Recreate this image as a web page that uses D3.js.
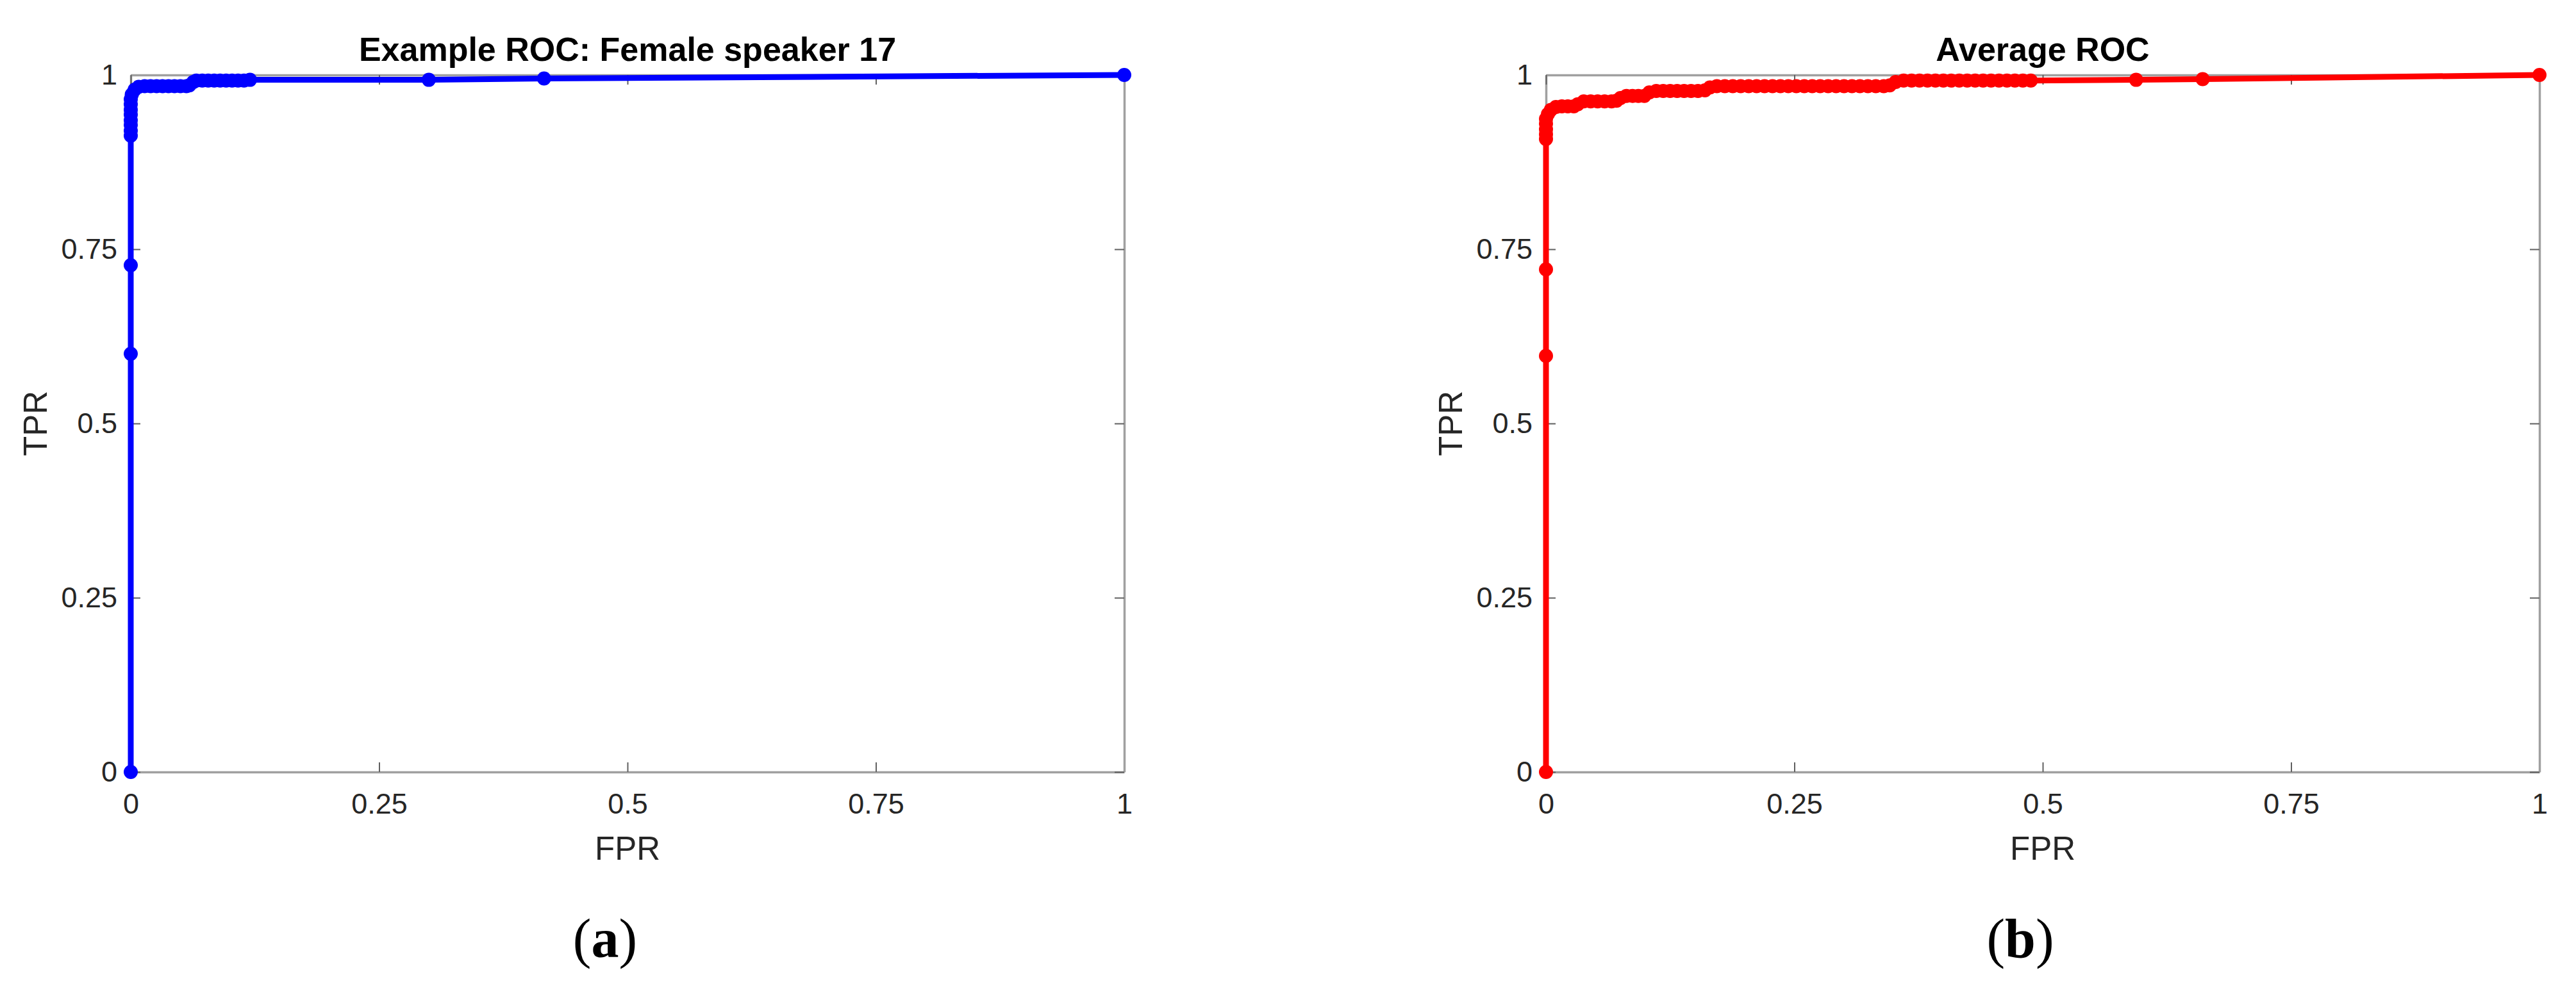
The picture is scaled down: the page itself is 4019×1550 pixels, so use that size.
<!DOCTYPE html>
<meta charset="utf-8">
<script src="https://d3js.org/d3.v7.min.js"></script>
<title>ROC curves</title>
<style>
  body { margin: 0; background: white; }
  svg { display: block; }
  .tick text { font-family: "Liberation Sans", Arial, sans-serif; fill: #262626; }
</style>
<body>
<div id="chart"></div>
<script>

// ---- data ----
var xTicks = [0, 0.25, 0.5, 0.75, 1];
var yTicks = [0, 0.25, 0.5, 0.75, 1];
var titles = ["Example ROC: Female speaker 17", "Average ROC"];
var panelTags = ["a", "b"];
var colors = ["#0000ff", "#ff0000"];

// [FPR, TPR] for speaker 17
var rocSpeaker = [
  [0, 0], [0, 0.600], [0, 0.727],
  [0, 0.913], [0, 0.920], [0, 0.928], [0, 0.935], [0, 0.943], [0, 0.950], [0, 0.958], [0, 0.965],
  [0.001, 0.972], [0.004, 0.979], [0.008, 0.983],
  [0.014, 0.984], [0.020, 0.984], [0.026, 0.984], [0.032, 0.984], [0.038, 0.984],
  [0.044, 0.984], [0.050, 0.984], [0.056, 0.984], [0.059, 0.985],
  [0.063, 0.990], [0.066, 0.992], [0.072, 0.992], [0.078, 0.992], [0.084, 0.992],
  [0.090, 0.992], [0.096, 0.992], [0.102, 0.992], [0.108, 0.992], [0.114, 0.992], [0.120, 0.993],
  [0.300, 0.993], [0.416, 0.995], [1, 1]
];

// [FPR, TPR] averaged over speakers
var rocAverage = [
  [0, 0], [0, 0.597], [0, 0.721],
  [0, 0.908], [0, 0.915], [0, 0.922], [0, 0.930], [0, 0.937],
  [0.002, 0.944], [0.005, 0.950], [0.010, 0.954],
  [0.016, 0.955], [0.022, 0.955], [0.028, 0.955], [0.032, 0.958],
  [0.038, 0.962], [0.045, 0.962], [0.052, 0.962], [0.059, 0.962], [0.066, 0.962], [0.071, 0.963],
  [0.075, 0.967], [0.081, 0.970], [0.087, 0.970], [0.093, 0.970], [0.099, 0.970],
  [0.104, 0.975], [0.111, 0.977], [0.118, 0.977], [0.125, 0.977], [0.132, 0.977],
  [0.139, 0.977], [0.146, 0.977], [0.153, 0.977], [0.160, 0.978],
  [0.165, 0.982], [0.172, 0.984], [0.180, 0.984], [0.188, 0.984], [0.196, 0.984],
  [0.204, 0.984], [0.212, 0.984], [0.220, 0.984], [0.228, 0.984], [0.236, 0.984],
  [0.244, 0.984], [0.252, 0.984], [0.260, 0.984], [0.268, 0.984], [0.276, 0.984],
  [0.284, 0.984], [0.292, 0.984], [0.300, 0.984], [0.308, 0.984], [0.316, 0.984],
  [0.324, 0.984], [0.332, 0.984], [0.340, 0.984], [0.346, 0.985],
  [0.352, 0.990], [0.360, 0.992], [0.368, 0.992], [0.376, 0.992], [0.384, 0.992],
  [0.392, 0.992], [0.400, 0.992], [0.408, 0.992], [0.416, 0.992], [0.424, 0.992],
  [0.432, 0.992], [0.440, 0.992], [0.448, 0.992], [0.456, 0.992], [0.464, 0.992],
  [0.472, 0.992], [0.480, 0.992], [0.488, 0.992],
  [0.594, 0.993], [0.661, 0.994], [1, 1]
];

var curves = [rocSpeaker, rocAverage];

// ---- layout ----
var W = 4019, H = 1550;
var plotW = 1550;
var plotTop = 117, plotBottom = 1205;
var lefts = [204, 2412];
var font = '"Liberation Sans", Arial, sans-serif';

var svg = d3.select("#chart").append("svg")
    .attr("width", W)
    .attr("height", H);

lefts.forEach(function(left, i) {
  var x = d3.scaleLinear().domain([0, 1]).range([left, left + plotW]);
  var y = d3.scaleLinear().domain([0, 1]).range([plotBottom, plotTop]);
  var fmt = d3.format("~g");

  var g = svg.append("g");

  // axes, ticks inside like matlab, box on
  var ax = g.append("g").attr("transform", "translate(0," + plotBottom + ")")
    .call(d3.axisBottom(x).tickValues(xTicks).tickFormat(fmt)
      .tickSizeInner(-15).tickSizeOuter(0).tickPadding(33));
  var ay = g.append("g").attr("transform", "translate(" + left + ",0)")
    .call(d3.axisLeft(y).tickValues(yTicks).tickFormat(fmt)
      .tickSizeInner(-15).tickSizeOuter(0).tickPadding(21));
  var at = g.append("g").attr("transform", "translate(0," + plotTop + ")")
    .call(d3.axisTop(x).tickValues(xTicks).tickFormat("")
      .tickSizeInner(-15).tickSizeOuter(0));
  var ar = g.append("g").attr("transform", "translate(" + (left + plotW) + ",0)")
    .call(d3.axisRight(y).tickValues(yTicks).tickFormat("")
      .tickSizeInner(-15).tickSizeOuter(0));

  [ax, ay, at, ar].forEach(function(a) {
    a.select(".domain").attr("stroke", "#a0a0a0").attr("stroke-width", 3.5);
    a.selectAll(".tick line").attr("stroke", "#606060").attr("stroke-width", 2);
    a.selectAll(".tick text").style("font-size", "45px");
  });

  // axis labels
  g.append("text")
    .attr("x", left + plotW / 2)
    .attr("y", 1342)
    .attr("text-anchor", "middle")
    .style("font-family", font)
    .style("font-size", "51px")
    .style("fill", "#262626")
    .text("FPR");

  g.append("text")
    .attr("transform", "translate(" + (left - 131) + "," + y(0.5) + ")rotate(-90)")
    .attr("text-anchor", "middle")
    .style("font-family", font)
    .style("font-size", "51px")
    .style("fill", "#262626")
    .text("TPR");

  // title
  g.append("text")
    .attr("x", left + plotW / 2)
    .attr("y", 95)
    .attr("text-anchor", "middle")
    .style("font-family", font)
    .style("font-size", "52px")
    .style("font-weight", "bold")
    .style("fill", "#000")
    .text(titles[i]);

  // curve + markers
  var line = d3.line()
    .x(function(d) { return x(d[0]); })
    .y(function(d) { return y(d[1]); });

  g.append("path")
    .datum(curves[i])
    .attr("d", line)
    .attr("fill", "none")
    .attr("stroke", colors[i])
    .attr("stroke-width", 9)
    .attr("stroke-linejoin", "round");

  g.selectAll(".dot")
    .data(curves[i])
    .enter()
    .append("circle")
      .attr("cx", function(d) { return x(d[0]); })
      .attr("cy", function(d) { return y(d[1]); })
      .attr("r", 11)
      .style("fill", colors[i]);

  // sub-figure tag
  var tag = g.append("text")
    .attr("x", left + plotW / 2 - 35)
    .attr("y", 1494)
    .attr("text-anchor", "middle")
    .style("font-family", '"Liberation Serif", "Times New Roman", serif')
    .style("font-size", "86px")
    .style("fill", "#000");
  tag.append("tspan").text("(");
  tag.append("tspan").style("font-weight", "bold").text(panelTags[i]);
  tag.append("tspan").text(")");
});

</script>
</body>
